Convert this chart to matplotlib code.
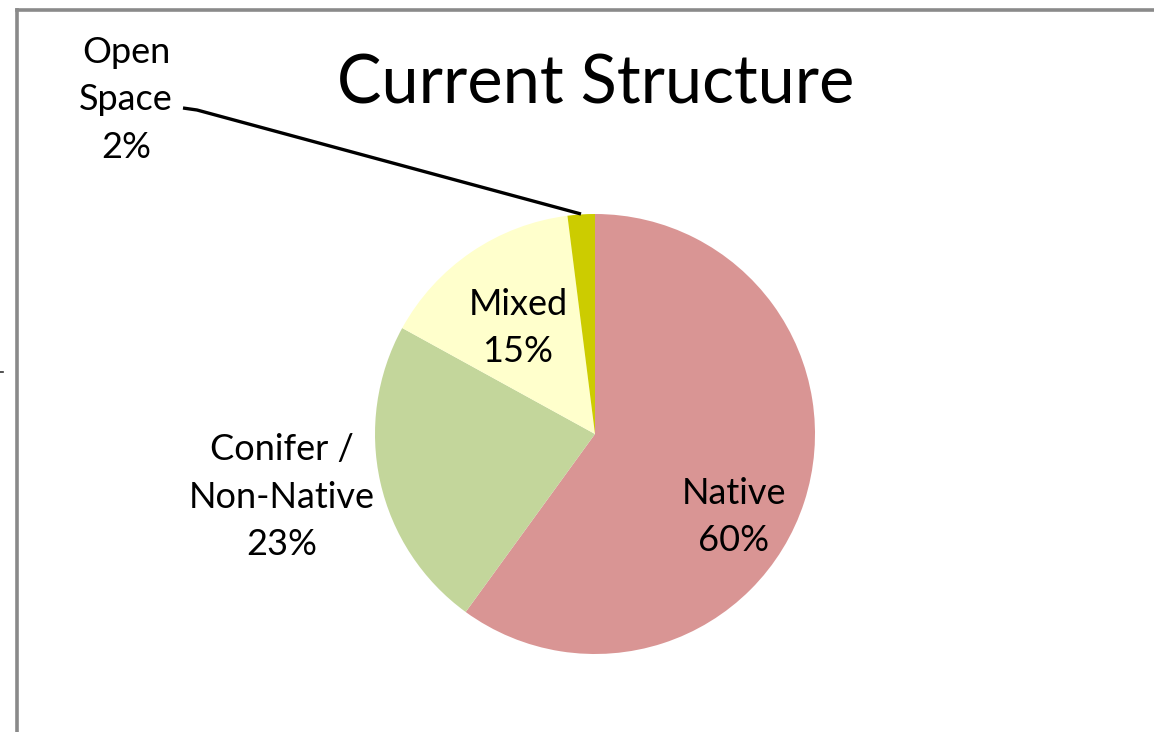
import matplotlib.pyplot as plt
from matplotlib.lines import Line2D

# dane wykresu
kategorie = ["Native", "Conifer /\nNon-Native", "Mixed", "Open\nSpace"]
udzialy = [60, 23, 15, 2]
kolory = ["#D99594", "#C3D69B", "#FFFFCC", "#CCCC00"]
tytul = "Current Structure"

plt.rcParams['font.family'] = ['Lato', 'DejaVu Sans']

W, H = 1154, 732
fig = plt.figure(figsize=(W / 100, H / 100), dpi=100)

# ramka wykresu (szara)
fig.add_artist(Line2D([17 / W, 17 / W], [0, 1 - 10 / H], color="#8a8a8a", lw=2.6,
                      transform=fig.transFigure))
fig.add_artist(Line2D([17 / W, 1], [1 - 10 / H, 1 - 10 / H], color="#8a8a8a", lw=2.6,
                      transform=fig.transFigure))
fig.add_artist(Line2D([0, 3 / W], [1 - 372 / H, 1 - 372 / H], color="#333333", lw=1.2,
                      transform=fig.transFigure))

cx, cy, r = 595, 434, 220
ax = fig.add_axes([(cx - r) / W, (H - cy - r) / H, 2 * r / W, 2 * r / H])
ax.pie(udzialy, colors=kolory, startangle=90, counterclock=False, radius=1,
       wedgeprops=dict(linewidth=0))
ax.set_xlim(-1, 1)
ax.set_ylim(-1, 1)
ax.set_aspect('equal')
ax.axis('off')


def px(x, y):
    return (x - cx) / r, (cy - y) / r


pozycje = [(734, 517), (282, 497), (518, 328), (126, 100)]
for kat, val, (x, y) in zip(kategorie, udzialy, pozycje):
    tx, ty = px(x, y)
    ax.text(tx, ty, f"{kat}\n{val}%", ha="center", va="center", fontsize=26,
            fontweight="normal", linespacing=1.55, color="black", clip_on=False)

# linia odniesienia dla Open Space
punkty = [px(183, 108), px(197, 110), px(581, 214)]
ax.plot([p[0] for p in punkty], [p[1] for p in punkty], color="black", lw=2.4,
        clip_on=False, solid_capstyle="butt")

fig.text(596 / W, 1 - 85 / H, tytul, ha="center", va="center", fontsize=48,
         fontweight="normal", color="black")

fig.savefig("out.png", dpi=100)
